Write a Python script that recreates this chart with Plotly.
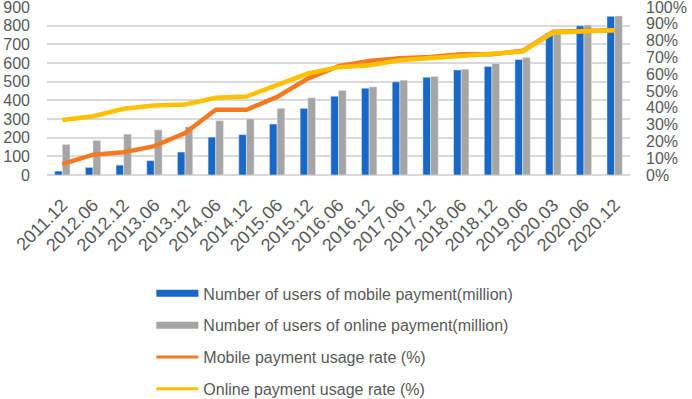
import plotly.graph_objects as go

periods = ["2011.12", "2012.06", "2012.12", "2013.06", "2013.12", "2014.06", "2014.12",
           "2015.06", "2015.12", "2016.06", "2016.12", "2017.06", "2017.12", "2018.06",
           "2018.12", "2019.06", "2020.03", "2020.06", "2020.12"]
mobile_users = [21, 41, 53, 77, 123, 203, 216, 273, 357, 422, 465, 499, 524, 563, 581, 619, 761, 799, 850]
online_users = [164, 185, 219, 242, 258, 291, 301, 357, 414, 453, 472, 508, 528, 567, 597, 629, 766, 804, 852]
mobile_rate = [6.5, 12.1, 13.5, 17.2, 25.0, 38.8, 38.8, 46.5, 57.4, 64.8, 67.9, 69.5, 70.3, 71.9, 71.9, 73.9, 85.3, 85.7, 86.1]
online_rate = [32.7, 35.0, 39.4, 41.4, 42.0, 46.0, 46.7, 53.5, 60.4, 64.2, 65.3, 68.3, 69.5, 70.9, 72.3, 73.5, 84.8, 85.7, 86.1]

names = ["Number of users of mobile payment(million)",
         "Number of users of online payment(million)",
         "Mobile payment usage rate (%)",
         "Online payment usage rate (%)"]
colors = ["#1868C8", "#A5A5A5", "#F47A22", "#FFC000"]

fig = go.Figure()
fig.add_trace(go.Bar(x=periods, y=mobile_users, name=names[0], marker_color=colors[0],
                     showlegend=False, yaxis="y"))
fig.add_trace(go.Bar(x=periods, y=online_users, name=names[1], marker_color=colors[1],
                     showlegend=False, yaxis="y"))
fig.add_trace(go.Scatter(x=periods, y=[v / 100 for v in mobile_rate], name=names[2], mode="lines",
                         line=dict(color=colors[2], width=4.5), showlegend=False, yaxis="y2"))
fig.add_trace(go.Scatter(x=periods, y=[v / 100 for v in online_rate], name=names[3], mode="lines",
                         line=dict(color=colors[3], width=4.5), showlegend=False, yaxis="y2"))

# legend entries (bar series shown as wide flat swatches like the original)
legend_widths = [7, 7, 3, 3]
for nm, col, w, grp in zip(names, colors, legend_widths, "abcd"):
    fig.add_trace(go.Scatter(x=[None], y=[None], mode="lines", name=nm, legendgroup=grp,
                             line=dict(color=col, width=w), showlegend=True, hoverinfo="skip"))

font_color = "#595959"
fig.update_layout(
    width=692, height=399,
    margin=dict(l=47, r=62, t=7, b=224, autoexpand=False),
    paper_bgcolor="white", plot_bgcolor="white",
    font=dict(family="Liberation Sans, Arial, sans-serif", size=16, color=font_color),
    barmode="group", bargap=0.5, bargroupgap=0,
    xaxis=dict(tickangle=-45, tickfont=dict(size=18), showgrid=False, showline=False,
               ticks="", ticklabelstandoff=15, type="category", automargin=False),
    yaxis=dict(range=[0, 900], dtick=100, showgrid=True, gridcolor="#D9D9D9", gridwidth=1.5,
               zeroline=True, zerolinecolor="#D9D9D9", zerolinewidth=1.5,
               ticks="", ticklabelstandoff=16,
               tickfont=dict(size=16), automargin=False, ticklabeloverflow="allow"),
    yaxis2=dict(range=[0, 1], dtick=0.1, tickformat=".0%", overlaying="y", side="right",
                showgrid=False, zeroline=False, ticks="", ticklabelstandoff=15,
                tickfont=dict(size=16), automargin=False, ticklabeloverflow="allow"),
    showlegend=True,
    legend=dict(orientation="v", x=0.179, xanchor="left", y=-0.604, yanchor="top",
                tracegroupgap=8, font=dict(size=16, color=font_color), traceorder="grouped",
                itemwidth=42),
)

fig.write_html("out.html", config={"displayModeBar": False},
               post_script="document.body.style.margin='0';document.body.style.padding='0';")
